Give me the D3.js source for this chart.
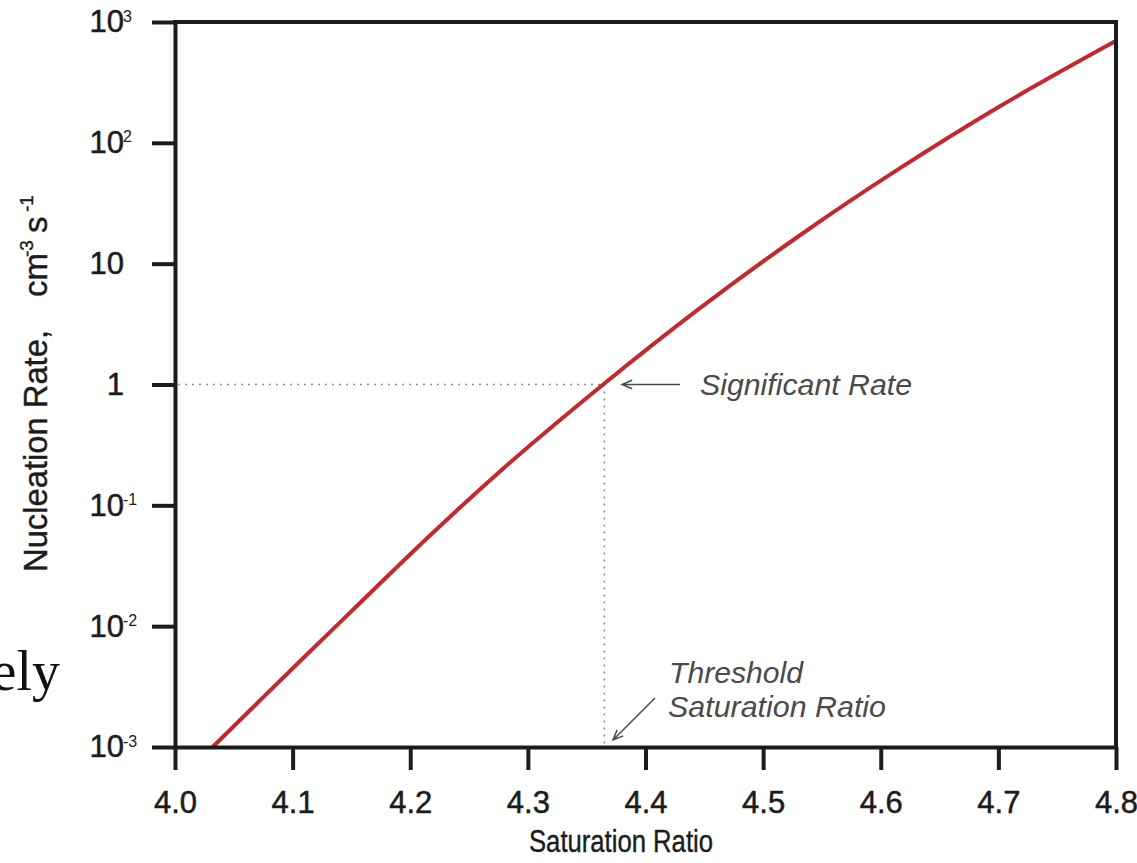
<!DOCTYPE html>
<html>
<head>
<meta charset="utf-8">
<script src="https://cdn.jsdelivr.net/npm/d3@7"></script>
<style>
  body { margin: 0; background: #fff; }
  svg { display: block; }
</style>
</head>
<body>
<svg id="chart" width="1137" height="863"></svg>
<script>
// data
var satRatio = [4.032, 4.106, 4.149, 4.217, 4.276, 4.364, 4.446, 4.531, 4.616, 4.701, 4.800];
var nucRate  = [0.001, 0.0051, 0.013, 0.0565, 0.19, 1.0, 4.26, 17.1, 61.4, 200, 698];

var xTicks = [4.0, 4.1, 4.2, 4.3, 4.4, 4.5, 4.6, 4.7, 4.8];
var yTicks = [1e-3, 1e-2, 1e-1, 1, 10, 100, 1000];
var yTickBase = ["10", "10", "10", "1", "10", "10", "10"];
var yTickExp  = ["-3", "-2", "-1", "", "", "2", "3"];

var thresholdRatio = 4.365;
var significantRate = 1;

var font = "'Liberation Sans', Arial, Helvetica, sans-serif";
var ink = "#1c1c1c";
var noteInk = "#4a4a4a";

var svg = d3.select("#chart");

var x = d3.scaleLinear().domain([4.0, 4.8]).range([175, 1116]);
var y = d3.scaleLog().domain([1e-3, 1e3]).range([747, 22]);

// stray text from the slide behind the figure
svg.append("text")
   .attr("x", 60).attr("y", 690)
   .attr("text-anchor", "end")
   .attr("font-family", "'Liberation Serif', 'Times New Roman', serif")
   .attr("font-size", "56px")
   .attr("fill", "#111")
   .text("ely");

// dotted guide lines
svg.append("line")
   .attr("x1", x(4.0) + 3).attr("x2", x(thresholdRatio))
   .attr("y1", y(significantRate)).attr("y2", y(significantRate))
   .attr("stroke", "#8c8c8c").attr("stroke-width", 1.6)
   .attr("stroke-dasharray", "2,5");
svg.append("line")
   .attr("x1", x(thresholdRatio)).attr("x2", x(thresholdRatio))
   .attr("y1", y(significantRate)).attr("y2", y(1e-3) - 2)
   .attr("stroke", "#8c8c8c").attr("stroke-width", 1.6)
   .attr("stroke-dasharray", "2,5");

// the curve
var line = d3.line()
   .x(function(d, i) { return x(satRatio[i]); })
   .y(function(d) { return y(d); })
   .curve(d3.curveCatmullRom.alpha(0.5));

svg.append("path")
   .datum(nucRate)
   .attr("d", line)
   .attr("fill", "none")
   .attr("stroke", "#c4282c")
   .attr("stroke-width", 4);

// x axis
var gx = svg.append("g")
   .attr("transform", "translate(0," + y(1e-3) + ")")
   .call(d3.axisBottom(x).tickValues(xTicks).tickSize(23).tickSizeOuter(0)
         .tickPadding(21).tickFormat(d3.format(".1f")));

// y axis
var gy = svg.append("g")
   .attr("transform", "translate(" + x(4.0) + ",0)")
   .call(d3.axisLeft(y).tickValues(yTicks).tickSize(23).tickSizeOuter(0)
         .tickPadding(28).tickFormat(function(d, i) { return yTickBase[i]; }));

[gx, gy].forEach(function(g) {
  g.select(".domain").attr("stroke", ink).attr("stroke-width", 4);
  g.selectAll(".tick line").attr("stroke", ink).attr("stroke-width", 4);
  g.selectAll(".tick text")
   .attr("font-family", font)
   .attr("font-size", "31px")
   .attr("fill", ink)
   .attr("stroke", ink)
   .attr("stroke-width", 0.5);
});

// exponents on the y tick labels
gy.selectAll(".tick")
  .append("text")
  .attr("x", -52)
  .attr("y", -1)
  .attr("text-anchor", "start")
  .attr("font-family", font)
  .attr("font-size", "16px")
  .attr("fill", ink)
  .text(function(d, i) { return yTickExp[i]; });

// top and right frame
svg.append("line")
   .attr("x1", x(4.0)).attr("x2", x(4.8))
   .attr("y1", y(1e3)).attr("y2", y(1e3))
   .attr("stroke", ink).attr("stroke-width", 4).attr("stroke-linecap", "square");
svg.append("line")
   .attr("x1", x(4.8)).attr("x2", x(4.8))
   .attr("y1", y(1e3)).attr("y2", y(1e-3))
   .attr("stroke", ink).attr("stroke-width", 4).attr("stroke-linecap", "square");

// axis titles
svg.append("text")
   .attr("x", 621).attr("y", 852)
   .attr("text-anchor", "middle")
   .attr("font-family", font)
   .attr("font-size", "31px")
   .attr("textLength", 184)
   .attr("lengthAdjust", "spacingAndGlyphs")
   .attr("fill", ink)
   .attr("stroke", ink)
   .attr("stroke-width", 0.4)
   .text("Saturation Ratio");

var yTitle = svg.append("text")
   .attr("transform", "translate(47,572) rotate(-90)")
   .attr("text-anchor", "start")
   .attr("font-family", font)
   .attr("font-size", "33px")
   .attr("fill", ink)
   .attr("stroke", ink)
   .attr("stroke-width", 0.4);
yTitle.append("tspan").attr("x", 0).attr("textLength", 242)
      .attr("lengthAdjust", "spacingAndGlyphs").text("Nucleation Rate,");
yTitle.append("tspan").attr("x", 275).text("cm");
yTitle.append("tspan").attr("x", 315).attr("dy", -14).attr("font-size", "19px").text("-3");
yTitle.append("tspan").attr("x", 339).attr("dy", 14).text("s");
yTitle.append("tspan").attr("x", 360).attr("dy", -14).attr("font-size", "19px").text("-1");

// annotations
function arrow(x1, y1, x2, y2) {
  var a = Math.atan2(y2 - y1, x2 - x1);
  var len = 11, spread = 0.4;
  svg.append("path")
     .attr("d", "M" + x1 + "," + y1 + "L" + x2 + "," + y2 +
           "M" + (x2 - len * Math.cos(a - spread)) + "," + (y2 - len * Math.sin(a - spread)) +
           "L" + x2 + "," + y2 +
           "L" + (x2 - len * Math.cos(a + spread)) + "," + (y2 - len * Math.sin(a + spread)))
     .attr("fill", "none")
     .attr("stroke", noteInk)
     .attr("stroke-width", 1.5);
}

arrow(680, y(significantRate), 622, y(significantRate));
arrow(655, 698, 613, 740);

svg.append("text")
   .attr("x", 700).attr("y", 395)
   .attr("font-family", font)
   .attr("font-style", "italic")
   .attr("font-size", "29px")
   .attr("textLength", 212)
   .attr("lengthAdjust", "spacingAndGlyphs")
   .attr("fill", noteInk)
   .text("Significant Rate");

svg.append("text")
   .attr("x", 669).attr("y", 683)
   .attr("font-family", font)
   .attr("font-style", "italic")
   .attr("font-size", "29px")
   .attr("textLength", 134)
   .attr("lengthAdjust", "spacingAndGlyphs")
   .attr("fill", noteInk)
   .text("Threshold");

svg.append("text")
   .attr("x", 668).attr("y", 717)
   .attr("font-family", font)
   .attr("font-style", "italic")
   .attr("font-size", "29px")
   .attr("textLength", 218)
   .attr("lengthAdjust", "spacingAndGlyphs")
   .attr("fill", noteInk)
   .text("Saturation Ratio");
</script>
</body>
</html>
